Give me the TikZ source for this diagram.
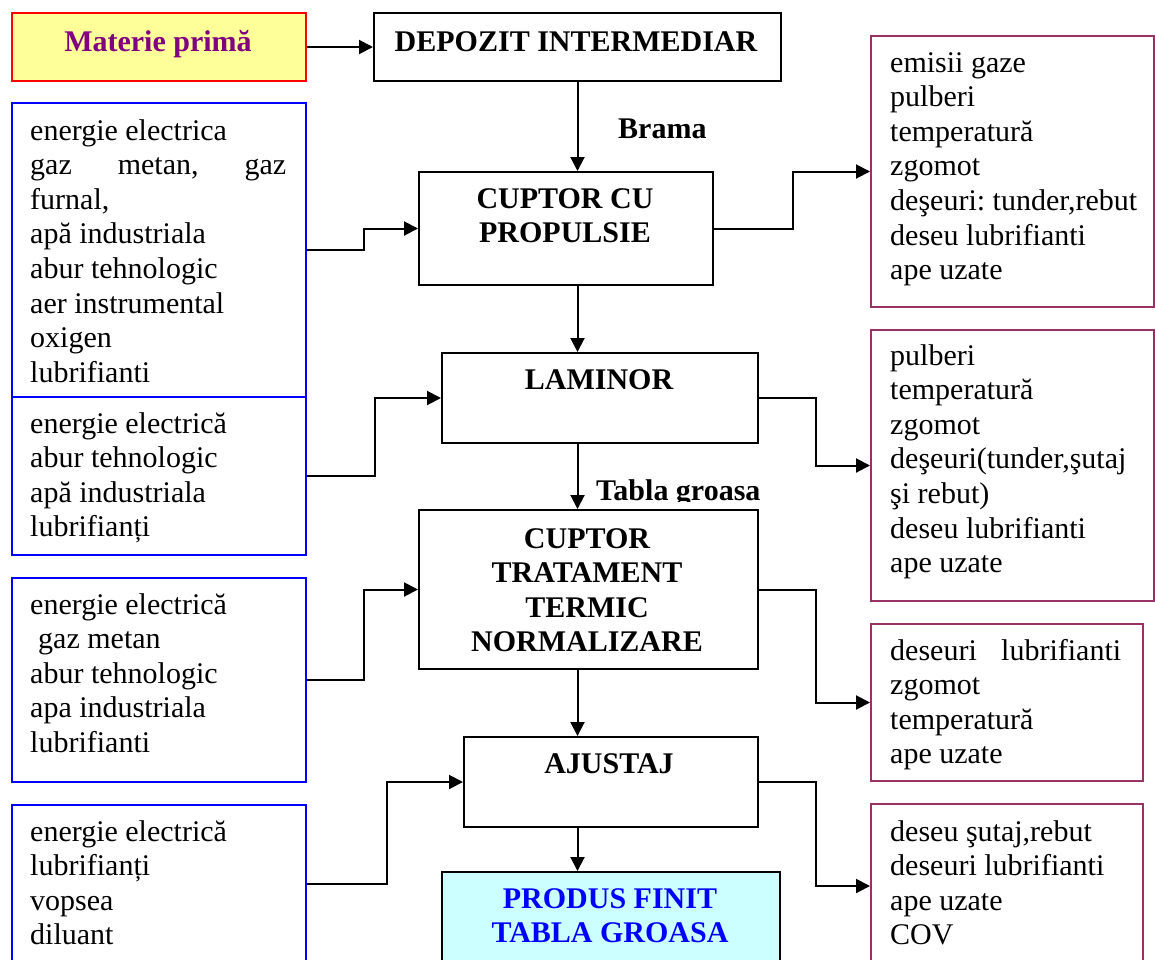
\documentclass[tikz,border=0pt]{standalone}
\usepackage{fontspec}
\setmainfont{Liberation Serif}
\usetikzlibrary{arrows.meta}
\frenchspacing

\definecolor{mpfill}{HTML}{FFFF99}
\definecolor{mptext}{HTML}{800080}
\definecolor{inblue}{HTML}{0000FF}
\definecolor{outrose}{HTML}{993366}
\definecolor{prodfill}{HTML}{CCFFFF}

\newcommand{\txtsize}{\fontsize{30}{34.6}\selectfont}

\tikzset{
  blk/.style={rectangle, draw, line width=2pt, inner sep=0pt, anchor=north west},
  inbox/.style={blk, draw=inblue},
  outbox/.style={blk, draw=outrose},
  stage/.style={blk, draw=black},
  lbl/.style={inner sep=0pt, anchor=base west, font=\txtsize},
  ttl/.style={inner sep=0pt, anchor=base, font=\txtsize\bfseries},
  flow/.style={line width=2pt, -{Triangle[length=14pt,width=14pt]}},
}

\begin{document}
\begin{tikzpicture}[x=1pt,y=-1pt]
\useasboundingbox (0,0) rectangle (1155,959);
\clip (0,0) rectangle (1155,959);

% ---- process stages (centre column)
\node[blk, draw=red, fill=mpfill, minimum width=294pt, minimum height=68pt] (mp) at (11,12) {};
\node[stage, minimum width=407pt, minimum height=68pt] (dep) at (373,12) {};
\node[stage, minimum width=294pt, minimum height=113pt] (cup) at (418,171) {};
\node[stage, minimum width=316pt, minimum height=90pt] (lam) at (441,352) {};
\node[stage, minimum width=339pt, minimum height=159pt] (trt) at (418,509) {};
\node[stage, minimum width=294pt, minimum height=90pt] (aju) at (463,736) {};
\node[stage, fill=prodfill, minimum width=338pt, minimum height=110pt] (pro) at (441,871) {};

% ---- inputs (left column)
\node[inbox, minimum width=294pt, minimum height=294pt] (in1) at (11,102) {};
\node[inbox, minimum width=294pt, minimum height=158pt] (in2) at (11,396) {};
\node[inbox, minimum width=294pt, minimum height=204pt] (in3) at (11,577) {};
\node[inbox, minimum width=294pt, minimum height=158pt] (in4) at (11,804) {};

% ---- outputs (right column)
\node[outbox, minimum width=283pt, minimum height=271pt] (out1) at (870,35) {};
\node[outbox, minimum width=283pt, minimum height=271pt] (out2) at (870,329) {};
\node[outbox, minimum width=272pt, minimum height=157pt] (out3) at (870,623) {};
\node[outbox, minimum width=272pt, minimum height=164pt] (out4) at (870,803) {};

% ---- stage titles
\node[ttl, text=mptext] (mpT) at (158,51) {Materie primă};
\node[ttl] (depT) at (576,51) {DEPOZIT INTERMEDIAR};
\node[ttl] (cupT) at (565,208) {\parbox[t]{280pt}{\centering CUPTOR CU\\PROPULSIE}};
\node[ttl] (lamT) at (599,389) {LAMINOR};
\node[ttl] (trtT) at (587,548) {\parbox[t]{320pt}{\centering CUPTOR\\TRATAMENT\\TERMIC\\NORMALIZARE}};
\node[ttl] (ajuT) at (609,773) {AJUSTAJ};
\node[ttl, text=inblue] (proT) at (610,908) {\parbox[t]{320pt}{\centering PRODUS FINIT\\TABLA GROASA}};

% ---- material labels on the main flow
\node[lbl, font=\txtsize\bfseries] (brama) at (618,138) {Brama};
\begin{scope}
  \clip (590,470) rectangle (790,501);
  \node[lbl, font=\txtsize\bfseries] (tabla) at (596,500) {Tabla groasa};
\end{scope}

% ---- input lists
\node[lbl] (in1T) at (30,140) {\parbox[t]{256pt}{energie electrica\\
  \hbox to 256pt{gaz\hfill metan,\hfill gaz}\\
  furnal,\\
  apă industriala\\
  abur tehnologic\\
  aer instrumental\\
  oxigen\\
  lubrifianti}};
\node[lbl] (in2T) at (30,433) {\parbox[t]{256pt}{energie electrică\\
  abur tehnologic\\
  apă industriala\\
  lubrifianți}};
\node[lbl] (in3T) at (30,614) {\parbox[t]{256pt}{energie electrică\\
  \hspace*{8pt}gaz metan\\
  abur tehnologic\\
  apa industriala\\
  lubrifianti}};
\node[lbl] (in4T) at (30,841) {\parbox[t]{256pt}{energie electrică\\
  lubrifianți\\
  vopsea\\
  diluant}};

% ---- output lists
\node[lbl] (out1T) at (890,72) {\parbox[t]{255pt}{emisii gaze\\
  pulberi\\
  temperatură\\
  zgomot\\
  deşeuri: tunder,rebut\\
  deseu lubrifianti\\
  ape uzate}};
\node[lbl] (out2T) at (890,365) {\parbox[t]{255pt}{pulberi\\
  temperatură\\
  zgomot\\
  deşeuri(tunder,şutaj\\
  şi rebut)\\
  deseu lubrifianti\\
  ape uzate}};
\node[lbl] (out3T) at (890,660) {\parbox[t]{231pt}{\noindent\hbox to 231pt{deseuri\hfill lubrifianti}\\
  zgomot\\
  temperatură\\
  ape uzate}};
\node[lbl] (out4T) at (890,841) {\parbox[t]{255pt}{deseu şutaj,rebut\\
  deseuri lubrifianti\\
  ape uzate\\
  COV}};

% ---- main flow
\draw[flow] (mp.east) -- (dep.west);
\draw[flow] (dep.south) -- (dep.south |- cup.north);
\draw[flow] (dep.south |- cup.south) -- (dep.south |- lam.north);
\draw[flow] (dep.south |- lam.south) -- (dep.south |- trt.north);
\draw[flow] (dep.south |- trt.south) -- (dep.south |- aju.north);
\draw[flow] (dep.south |- aju.south) -- (dep.south |- pro.north);

% ---- inputs into the stages
\draw[flow] (in1.east) -- ++(57,0) |- (cup.west);
\draw[flow] (in2.east) -- ++(68,0) |- (lam.west);
\draw[flow] (in3.east) -- ++(57,0) |- (trt.west);
\draw[flow] (in4.east) -- ++(80,0) |- (aju.west);

% ---- outputs from the stages
\draw[flow] (cup.east) -- ++(79,0) |- (out1.west);
\draw[flow] (lam.east) -- ++(57,0) |- (out2.west);
\draw[flow] (trt.east) -- ++(57,0) |- (out3.west);
\draw[flow] (aju.east) -- ++(57,0) |- (out4.west);
\end{tikzpicture}
\end{document}
